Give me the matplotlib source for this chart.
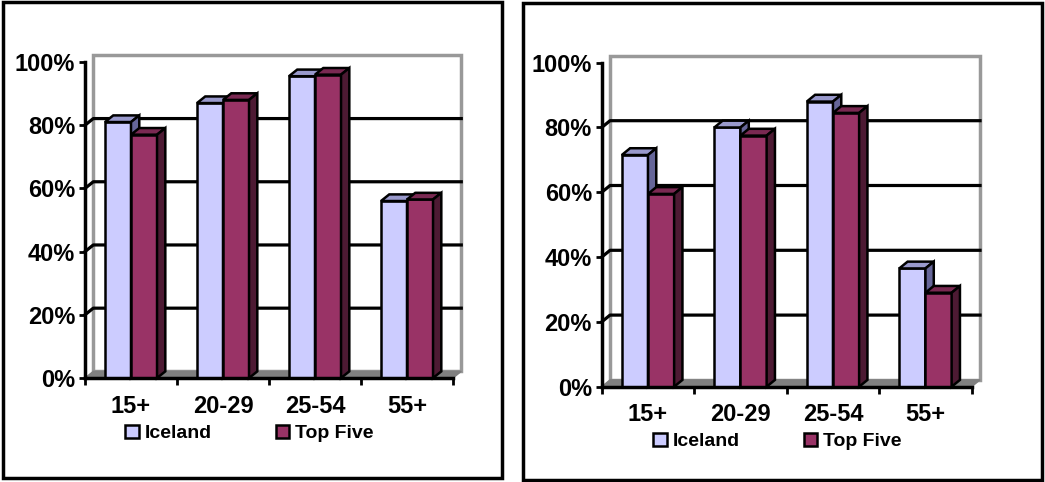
import matplotlib.pyplot as plt
from matplotlib.patches import Rectangle, Patch
import numpy as np

plt.rcParams['font.family'] = ['Liberation Sans', 'DejaVu Sans']
plt.rcParams['font.weight'] = 'bold'

# data
categories = ['15+', '20-29', '25-54', '55+']
series_names = ['Iceland', 'Top Five']
iceland_left = [0.81, 0.87, 0.955, 0.56]
top_five_left = [0.77, 0.88, 0.96, 0.565]
iceland_right = [0.715, 0.80, 0.88, 0.365]
top_five_right = [0.595, 0.775, 0.845, 0.29]
ytick_vals = [0, 0.2, 0.4, 0.6, 0.8, 1.0]
ytick_labels = ['0%', '20%', '40%', '60%', '80%', '100%']

W, H = 1045, 482
# colours: front, top, side
ice_cols = ('#CCCCFF', '#9999CC', '#666699')
top_cols = ('#993366', '#7A2952', '#4D1A33')

DX, DY = 0.09, 0.021   # fake depth in data units
BW = 0.283


def px_rect(x0, y0, x1, y1):
    # pixel box (top-left origin) -> figure fraction rect
    return [x0 / W, 1 - y1 / H, (x1 - x0) / W, (y1 - y0) / H]


def draw_panel(ax, iceland, top_five, leg_xy):
    n = len(categories)
    ax.set_xlim(0, n)
    ax.set_ylim(0, 1)

    # back wall + floor
    ax.fill([DX, DX, n + DX, n + DX], [DY, 1 + DY, 1 + DY, DY],
            facecolor='white', edgecolor='#999999', lw=2.5, clip_on=False, zorder=1)
    ax.fill([0, DX, n + DX, n], [0, DY, DY, 0],
            facecolor='#808080', edgecolor='#808080', lw=1, clip_on=False, zorder=1.5)
    for y in ytick_vals[1:-1]:
        ax.plot([0, DX, n + DX], [y, y + DY, y + DY], color='black', lw=2.3,
                clip_on=False, zorder=2)

    xc = np.arange(n) + 0.5
    for vals, cols, off in [(iceland, ice_cols, -BW / 2), (top_five, top_cols, BW / 2)]:
        xs = xc + off
        ax.bar(xs, vals, BW, color=cols[0], edgecolor='black', lw=1.8,
               zorder=3, clip_on=False)
        for x, v in zip(xs, vals):
            l, r = x - BW / 2, x + BW / 2
            ax.fill([l, l + DX, r + DX, r], [v, v + DY, v + DY, v],
                    facecolor=cols[1], edgecolor='black', lw=1.8, zorder=3, clip_on=False)
            ax.fill([r, r + DX, r + DX, r], [0, DY, v + DY, v],
                    facecolor=cols[2], edgecolor='black', lw=1.8, zorder=3, clip_on=False)

    for s in ['top', 'right']:
        ax.spines[s].set_visible(False)
    for s in ['left', 'bottom']:
        ax.spines[s].set_linewidth(2.5)
        ax.spines[s].set_zorder(4)

    ax.set_yticks(ytick_vals)
    ax.set_yticklabels(ytick_labels, fontsize=17, fontweight='bold')
    ax.tick_params(axis='y', direction='out', length=4, width=2, pad=3)
    ax.set_xticks(xc)
    ax.set_xticklabels(categories, fontsize=17, fontweight='bold')
    ax.tick_params(axis='x', which='major', length=0, pad=12)
    ax.set_xticks(np.arange(n + 1), minor=True)
    ax.tick_params(axis='x', which='minor', direction='out', length=5, width=2)
    ax.set_facecolor('none')

    handles = [Patch(facecolor=ice_cols[0], edgecolor='black', lw=1.8),
               Patch(facecolor=top_cols[0], edgecolor='black', lw=1.8)]
    fig.legend(handles, series_names, loc='center left',
               bbox_to_anchor=(leg_xy[0] / W, 1 - leg_xy[1] / H),
               ncol=2, frameon=False, prop={'weight': 'bold', 'size': 14},
               handlelength=0.7, handleheight=0.7, handletextpad=0.3,
               columnspacing=3.3, borderpad=0, borderaxespad=0)


fig = plt.figure(figsize=(W / 100, H / 100), dpi=100)

ax1 = fig.add_axes(px_rect(85, 62, 453, 378))
ax2 = fig.add_axes(px_rect(601.7, 62.7, 971.7, 386.7))
draw_panel(ax1, iceland_left, top_five_left, (125, 433.5))
draw_panel(ax2, iceland_right, top_five_right, (653, 441.5))

# panel frames
for box in [(3, 2, 502, 478), (523, 3, 1042, 480)]:
    r = px_rect(*box)
    fig.add_artist(Rectangle(r[:2], r[2], r[3], transform=fig.transFigure,
                             fill=False, edgecolor='black', lw=2.5))

fig.savefig('out.png', dpi=100)
